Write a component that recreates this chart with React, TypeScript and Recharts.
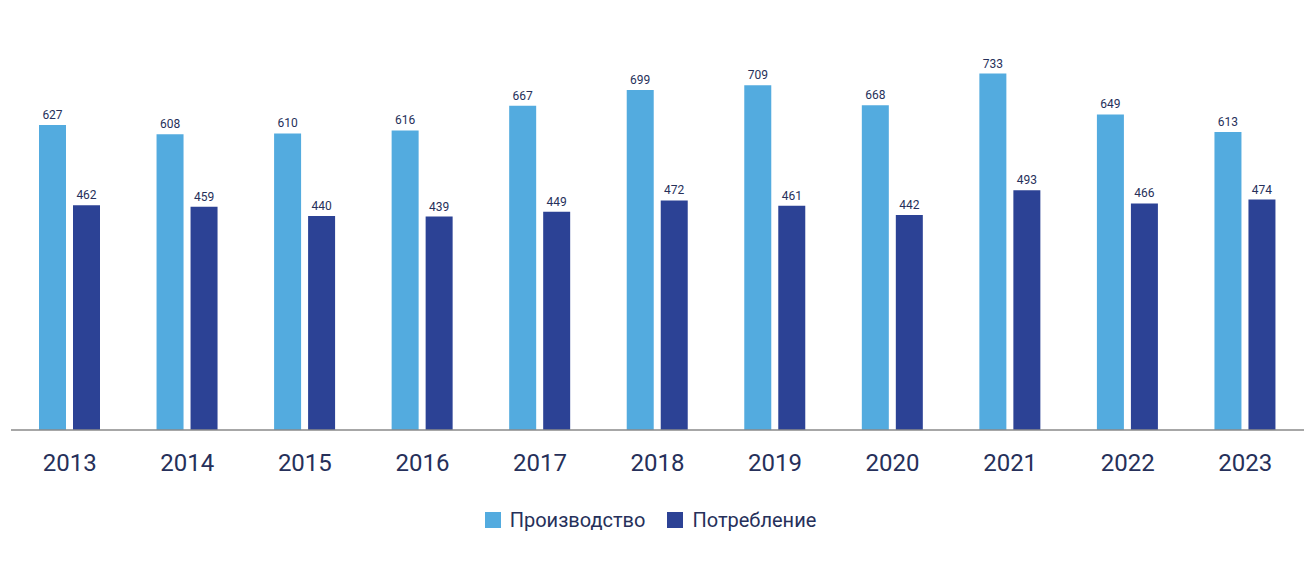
import { BarChart, Bar, XAxis, YAxis, Legend, LabelList } from "recharts";

const years = ["2013", "2014", "2015", "2016", "2017", "2018", "2019", "2020", "2021", "2022", "2023"];
const production = [627, 608, 610, 616, 667, 699, 709, 668, 733, 649, 613];
const consumption = [462, 459, 440, 439, 449, 472, 461, 442, 493, 466, 474];
const seriesNames = ["Производство", "Потребление"];

const LIGHT = "#53abdf";
const DARK = "#2c4295";
const TEXT = "#26305a";

const data = years.map((year, i) => ({
  year,
  prod: production[i],
  cons: consumption[i],
}));

const labelStyle = { fontSize: 12, fill: TEXT, fontFamily: "Roboto" };

function LegendBox() {
  const colors = [LIGHT, DARK];
  return (
    <div style={{ display: "flex", justifyContent: "center", alignItems: "center", fontFamily: "Roboto", fontSize: 20, color: TEXT, paddingRight: 14 }}>
      {seriesNames.map((name, i) => (
        <div key={name} style={{ display: "flex", alignItems: "center", marginLeft: i ? 22 : 0 }}>
          <span style={{ width: 16, height: 16, background: colors[i], display: "inline-block", marginRight: 9 }} />
          <span>{name}</span>
        </div>
      ))}
    </div>
  );
}

export default function App() {
  return (
    <div style={{ position: "absolute", left: 0, top: 0, width: 1312, height: 566, background: "#fff" }}>
      <BarChart
        width={1312}
        height={566}
        data={data}
        margin={{ top: 41, right: 8, left: 11, bottom: 20 }}
        barGap={7}
        barCategoryGap={28}
      >
        <YAxis hide domain={[0, 800]} />
        <XAxis
          dataKey="year"
          tickLine={false}
          tickSize={0}
          tickMargin={24}
          height={70}
          axisLine={{ stroke: "#8a8a8a", strokeWidth: 1.5 }}
          tick={{ fontSize: 24, fill: TEXT, fontFamily: "Roboto" }}
        />
        <Legend verticalAlign="bottom" height={46} content={<LegendBox />} wrapperStyle={{ bottom: 12 }} />
        <Bar dataKey="prod" name={seriesNames[0]} fill={LIGHT} barSize={27} isAnimationActive={false}>
          <LabelList dataKey="prod" position="top" offset={6} style={labelStyle} />
        </Bar>
        <Bar dataKey="cons" name={seriesNames[1]} fill={DARK} barSize={27} isAnimationActive={false}>
          <LabelList dataKey="cons" position="top" offset={6} style={labelStyle} />
        </Bar>
      </BarChart>
    </div>
  );
}
